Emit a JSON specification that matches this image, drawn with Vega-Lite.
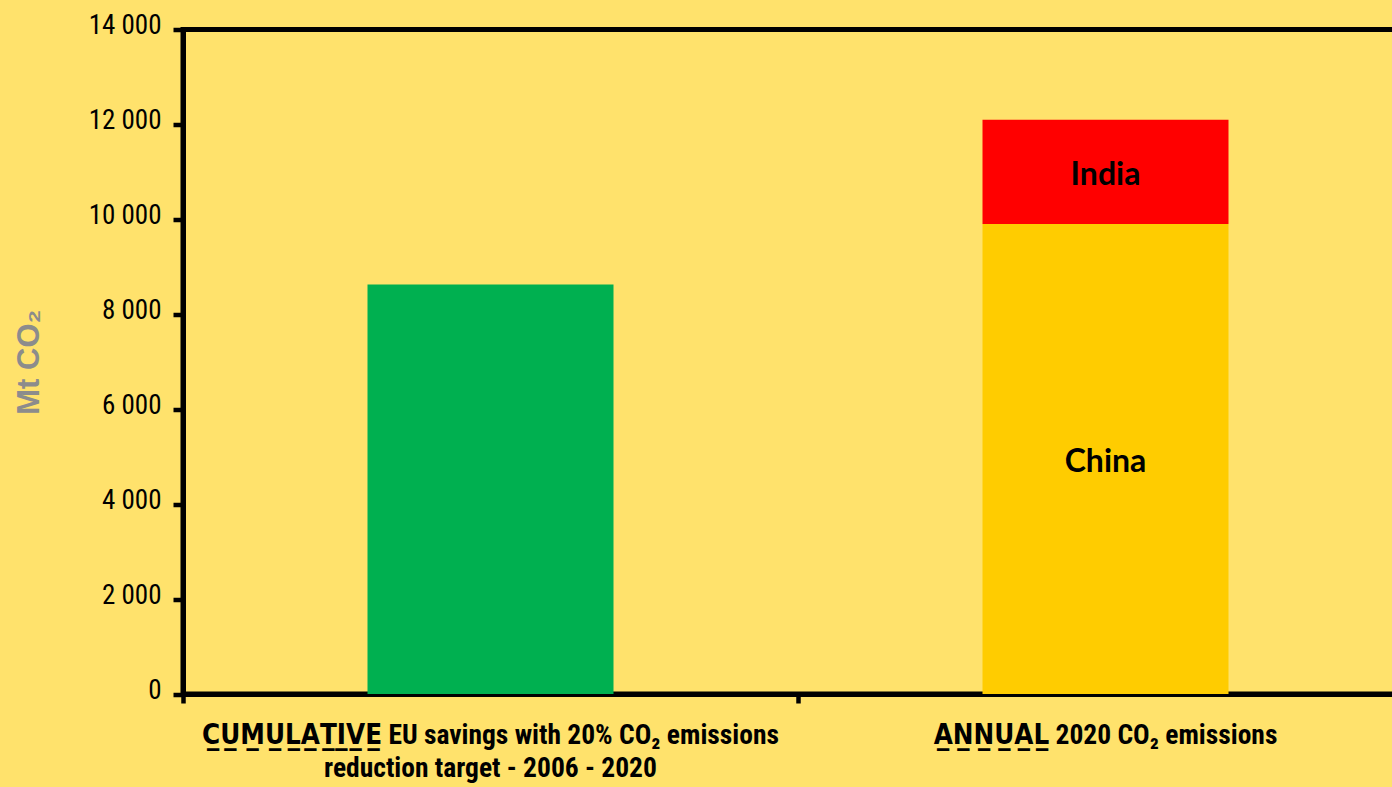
{
  "$schema": "https://vega.github.io/schema/vega-lite/v6.json",
  "width": 1230,
  "height": 664.5,
  "autosize": {"type": "none"},
  "padding": {"left": 183, "top": 29.5, "right": 0, "bottom": 92.5},
  "background": "#FFE26C",
  "config": {
    "view": {"stroke": "#000000", "strokeWidth": 5},
    "axis": {"grid": false, "domainColor": "#000000", "domainWidth": 5, "tickColor": "#000000", "tickWidth": 4.5}
  },
  "data": {
    "values": [
      {"category": "C\u0332U\u0332M\u0332U\u0332L\u0332A\u0332T\u0332I\u0332V\u0332E\u0332 EU savings with 20% CO\u2082 emissions|reduction target - 2006 - 2020", "series": "EU savings", "value": 8630},
      {"category": "A\u0332N\u0332N\u0332U\u0332A\u0332L\u0332 2020 CO\u2082 emissions", "series": "China", "value": 9900},
      {"category": "A\u0332N\u0332N\u0332U\u0332A\u0332L\u0332 2020 CO\u2082 emissions", "series": "India", "value": 2200}
    ]
  },
  "encoding": {
    "x": {
      "field": "category",
      "type": "nominal",
      "sort": null,
      "scale": {"paddingInner": 0.6, "paddingOuter": 0.3},
      "axis": {
        "title": null,
        "labelAngle": 0,
        "labelExpr": "split(datum.label, '|')",
        "labelFont": "Liberation Sans Narrow, Arial Narrow, Roboto Condensed, DejaVu Sans Condensed, Liberation Sans, sans-serif",
        "labelFontWeight": "bold",
        "labelFontSize": 27.5,
        "labelLineHeight": 33,
        "labelColor": "#000000",
        "labelLimit": 0,
        "labelPadding": 18,
        "tickSize": 9,
        "bandPosition": -0.75
      }
    }
  },
  "layer": [
    {
      "mark": {"type": "bar"},
      "encoding": {
        "y": {
          "field": "value",
          "type": "quantitative",
          "stack": "zero",
          "scale": {"domain": [0, 14000], "nice": false},
          "axis": {
            "title": "Mt CO\u2082",
            "titleFont": "Liberation Sans, sans-serif",
            "titleFontWeight": "bold",
            "titleFontSize": 31,
            "titleColor": "#8C8C8C",
            "titlePadding": 43,
            "values": [0, 2000, 4000, 6000, 8000, 10000, 12000, 14000],
            "labelExpr": "replace(format(datum.value, ','), ',', ' ')",
            "labelFont": "Liberation Sans Narrow, Arial Narrow, Roboto Condensed, DejaVu Sans Condensed, Liberation Sans, sans-serif",
            "labelFontSize": 27,
            "labelColor": "#000000",
            "labelPadding": 12,
            "labelOffset": -4,
            "tickSize": 10
          }
        },
        "color": {
          "field": "series",
          "type": "nominal",
          "scale": {"domain": ["EU savings", "China", "India"], "range": ["#00B050", "#FFCC00", "#FF0000"]},
          "legend": null
        },
        "order": {"field": "series", "type": "nominal", "sort": "ascending"}
      }
    },
    {
      "transform": [
        {"stack": "value", "groupby": ["category"], "sort": [{"field": "series", "order": "ascending"}], "as": ["v0", "v1"]},
        {"filter": "datum.series !== 'EU savings'"},
        {"calculate": "(datum.v0 + datum.v1) / 2", "as": "mid"}
      ],
      "mark": {"type": "text", "font": "Lato", "fontWeight": "bold", "fontSize": 32, "color": "#000000", "baseline": "middle", "dy": 3},
      "encoding": {
        "y": {"field": "mid", "type": "quantitative"},
        "text": {"field": "series"}
      }
    }
  ]
}
